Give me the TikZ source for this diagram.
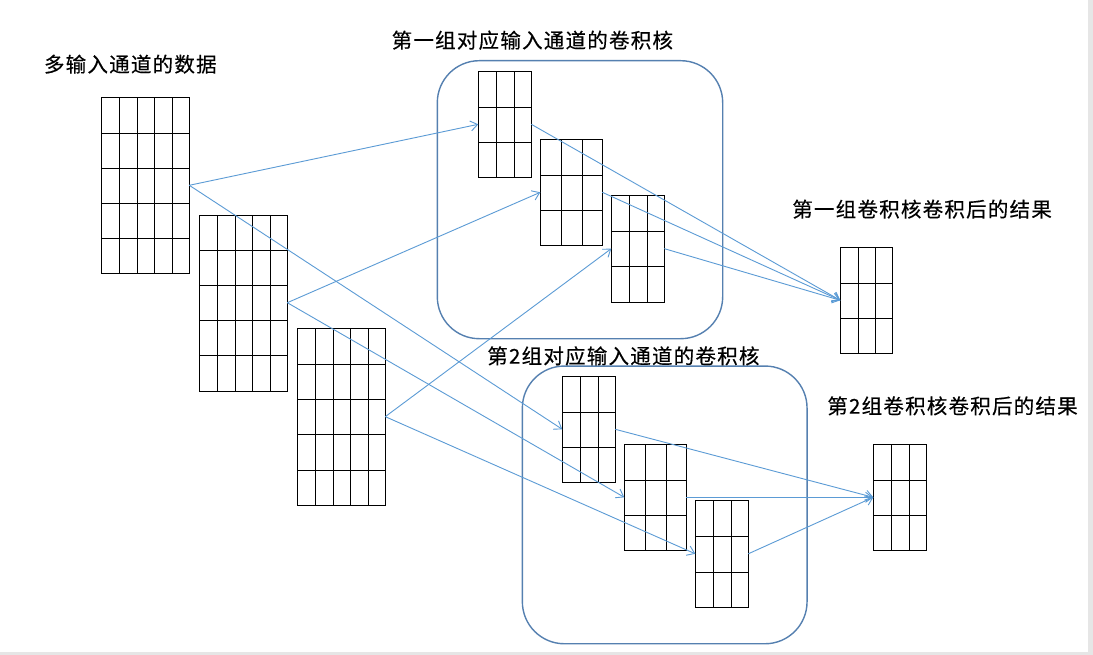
\documentclass[tikz,border=0pt]{standalone}
\usepackage{fontspec}
\newfontfamily\cjk[LetterSpace=6,FakeBold=0.4]{Noto Sans CJK SC}
\usetikzlibrary{arrows.meta,calc}
\definecolor{arrowblue}{HTML}{5B9BD5}
\definecolor{boxblue}{HTML}{5580B0}
\definecolor{edgegray}{HTML}{E6E6E6}
\tikzset{
  gridbox/.style={inner sep=0pt, outer sep=0pt},
  gridline/.style={draw=black, line width=1.4pt, line cap=rect},
  groupbox/.style={draw=boxblue, line width=1.4pt, rounded corners=42pt, inner sep=0pt, outer sep=0pt},
  flow/.style={draw=arrowblue, line width=0.9pt, -{Straight Barb[length=7pt,width=10pt]}},
  lbl/.style={anchor=base west, inner sep=0pt, outer sep=0pt, font=\cjk\fontsize{20.5}{24}\selectfont}
}
% name, left, top, width, height, cols, rows
\newcommand{\cellgrid}[7]{%
  \node[gridbox, minimum width=#4, minimum height=#5] (#1) at ({#2+#4/2},{#3+#5/2}) {};
  \pgfmathsetmacro{\gtop}{round(#3)+0.5}%
  \pgfmathsetmacro{\gbot}{round(#3+#5)+0.5}%
  \pgfmathsetmacro{\gleft}{round(#2)+0.5}%
  \pgfmathsetmacro{\gright}{round(#2+#4)+0.5}%
  \foreach \i in {0,...,#6} {
    \pgfmathsetmacro{\gx}{round(#2+\i*#4/#6)+0.5}
    \draw[gridline] (\gx,\gtop) -- (\gx,\gbot);
  }
  \foreach \j in {0,...,#7} {
    \pgfmathsetmacro{\gy}{round(#3+\j*#5/#7)+0.5}
    \draw[gridline] (\gleft,\gy) -- (\gright,\gy);
  }
}
\begin{document}
\begin{tikzpicture}[x=1pt,y=-1pt]
\useasboundingbox (0,0) rectangle (1093,655);
\fill[white] (0,0) rectangle (1093,655);
\fill[edgegray] (1088.3,0) rectangle (1093,655);
\fill[edgegray] (0,652.3) rectangle (1093,655);

% group boxes
\node[groupbox, minimum width=285.4, minimum height=278] (g1) at (580,199.7) {};
\node[groupbox, minimum width=284.7, minimum height=277.7] (g2) at (664.7,504.9) {};

% input data
\cellgrid{in1}{101.3}{97.3}{88}{176}{5}{5}
\cellgrid{in2}{199.3}{214.7}{88}{176}{5}{5}
\cellgrid{in3}{297.3}{328.3}{88}{176.7}{5}{5}

% kernels group 1
\cellgrid{a1}{478.3}{71.3}{53}{106}{3}{3}
\cellgrid{a2}{540.3}{139.3}{62}{106}{3}{3}
\cellgrid{a3}{611.3}{195.3}{53}{106.7}{3}{3}
% kernels group 2
\cellgrid{b1}{562.3}{376.3}{53}{106}{3}{3}
\cellgrid{b2}{624.3}{444.3}{62}{106}{3}{3}
\cellgrid{b3}{695.3}{500.3}{53}{107}{3}{3}
% results
\cellgrid{r1}{840.3}{247.3}{52}{106}{3}{3}
\cellgrid{r2}{873.3}{444.3}{53}{106}{3}{3}

% arrows input -> kernels
\draw[flow] (in1.east) -- (a1.west);
\draw[flow] (in1.east) -- (b1.west);
\draw[flow] (in2.east) -- (a2.west);
\draw[flow] (in2.east) -- (b2.west);
\draw[flow] (in3.east) -- (a3.west);
\draw[flow] (in3.east) -- (b3.west);
% kernels -> results
\draw[flow] (a1.east) -- (r1.west);
\draw[flow] (a2.east) -- (r1.west);
\draw[flow] (a3.east) -- (r1.west);
\draw[flow] (b1.east) -- (r2.west);
\draw[flow] (b2.east) -- (r2.west);
\draw[flow] (b3.east) -- (r2.west);

% labels
\node[lbl] (t1) at (44,72) {多输入通道的数据};
\node[lbl] (t2) at (391.7,48) {第一组对应输入通道的卷积核};
\node[lbl] (t3) at (792.3,217) {第一组卷积核卷积后的结果};
\node[lbl] (t4) at (487.3,363.7) {第2组对应输入通道的卷积核};
\node[lbl] (t5) at (827.3,413.7) {第2组卷积核卷积后的结果};
\end{tikzpicture}
\end{document}
